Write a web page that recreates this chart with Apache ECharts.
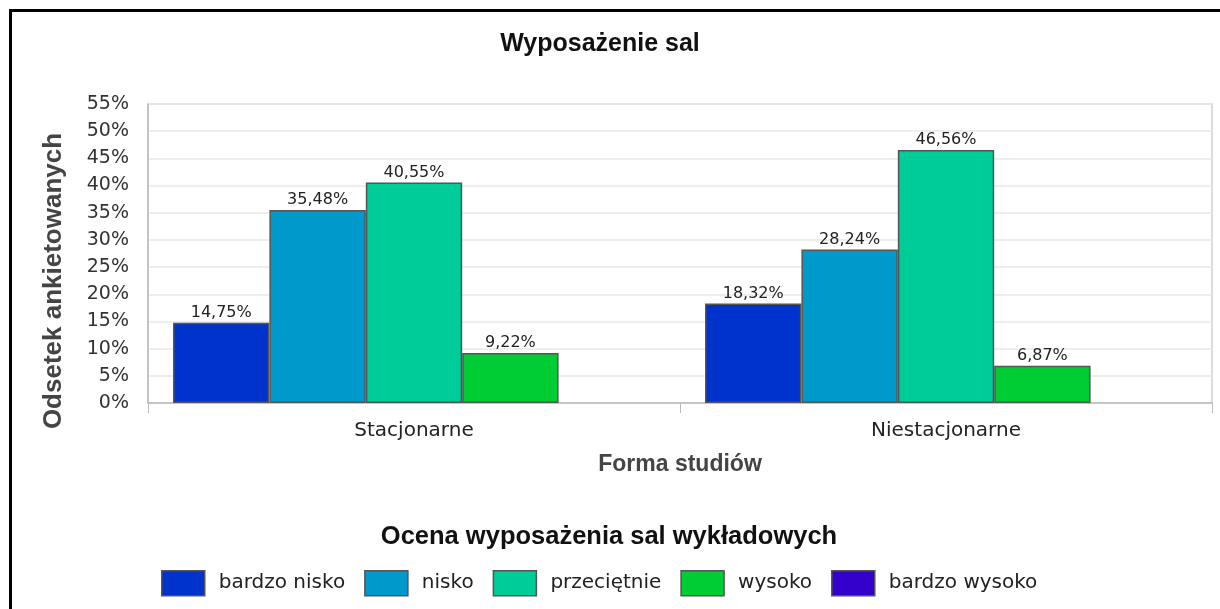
<!DOCTYPE html>
<html>
<head>
<meta charset="utf-8">
<script src="https://cdn.jsdelivr.net/npm/echarts@6/dist/echarts.min.js"></script>
<style>
html, body { margin: 0; padding: 0; background: #fff; }
#chart { width: 1220px; height: 609px; }
</style>
</head>
<body>
<div id="chart"></div>
<script>
var categories = ['Stacjonarne', 'Niestacjonarne'];
var seriesNames = ['bardzo nisko', 'nisko', 'przeciętnie', 'wysoko', 'bardzo wysoko'];
var seriesColors = ['#0033cc', '#0099cc', '#00cc99', '#00cc33', '#3300cc'];
var bardzoNisko = [14.75, 18.32];
var nisko = [35.48, 28.24];
var przecietnie = [40.55, 46.56];
var wysoko = [9.22, 6.87];
var bardzoWysoko = ['-', '-'];
var yTicks = [0, 5, 10, 15, 20, 25, 30, 35, 40, 45, 50, 55];

var seriesData = [bardzoNisko, nisko, przecietnie, wysoko, bardzoWysoko];
var labelFont = 'DejaVu Sans';

var chart = echarts.init(document.getElementById('chart'));

var series = seriesNames.map(function(name, i) {
	return {
		name: name,
		type: 'bar',
		data: seriesData[i],
		barGap: '0%',
		barCategoryGap: '9.4%',
		itemStyle: {
			color: seriesColors[i],
			borderColor: '#555',
			borderWidth: 1.5
		},
		label: {
			show: true,
			position: 'top',
			distance: 2,
			color: '#222',
			fontFamily: labelFont,
			fontSize: 16,
			formatter: function(p) {
				return p.value.toFixed(2).replace('.', ',') + '%';
			}
		}
	};
});

var option = {
	animation: false,
	backgroundColor: '#fff',
	title: [{
		text: 'Wyposażenie sal',
		left: 595,
		top: 27,
		textAlign: 'center',
		textStyle: {
			fontFamily: 'Liberation Sans',
			fontWeight: 'bold',
			fontSize: 25,
			color: '#111'
		}
	}, {
		text: 'Ocena wyposażenia sal wykładowych',
		left: 604,
		top: 519,
		textAlign: 'center',
		textStyle: {
			fontFamily: 'Liberation Sans',
			fontWeight: 'bold',
			fontSize: 25.5,
			color: '#111'
		}
	}],
	legend: {
		left: 156,
		top: 565,
		itemWidth: 43,
		itemHeight: 25,
		itemGap: 19,
		icon: 'rect',
		itemStyle: {
			borderColor: '#555',
			borderWidth: 1.5
		},
		textStyle: {
			fontFamily: labelFont,
			fontSize: 20,
			color: '#222',
			padding: [0, 0, 0, 9]
		},
		data: seriesNames
	},
	grid: {
		left: 148,
		right: 8,
		top: 104,
		bottom: 206,
		show: true,
		borderColor: '#cfcfcf',
		borderWidth: 1.5
	},
	xAxis: {
		type: 'category',
		data: categories,
		name: 'Forma studiów',
		nameLocation: 'middle',
		nameGap: 50,
		nameTextStyle: {
			fontFamily: 'Liberation Sans',
			fontWeight: 'bold',
			fontSize: 23,
			color: '#444'
		},
		axisLine: { lineStyle: { color: '#bbb', width: 1.5 } },
		axisTick: { show: true, length: 10, lineStyle: { color: '#bbb' } },
		axisLabel: {
			margin: 18,
			fontFamily: labelFont,
			fontSize: 20,
			color: '#222'
		}
	},
	yAxis: {
		type: 'value',
		min: 0,
		max: 55,
		interval: 5,
		axisLine: { show: true, lineStyle: { color: '#bbb', width: 1.5 } },
		axisTick: { show: false },
		splitLine: { lineStyle: { color: '#e8e8e8', width: 1.5 } },
		axisLabel: {
			margin: 19,
			fontFamily: labelFont,
			fontSize: 19,
			color: '#333',
			formatter: function(v) {
				return yTicks.indexOf(v) >= 0 ? v + '%' : '';
			}
		}
	},
	graphic: [{
		type: 'rect',
		silent: true,
		shape: { x: 10.5, y: 10.5, width: 1400, height: 800 },
		style: { fill: null, stroke: '#000', lineWidth: 3 }
	}, {
		type: 'text',
		silent: true,
		x: 54,
		y: 281,
		rotation: Math.PI / 2,
		style: {
			text: 'Odsetek ankietowanych',
			fontFamily: 'Liberation Sans',
			fontWeight: 'bold',
			fontSize: 26,
			fill: '#444',
			align: 'center',
			verticalAlign: 'middle'
		}
	}],
	series: series
};

chart.setOption(option);
</script>
</body>
</html>
